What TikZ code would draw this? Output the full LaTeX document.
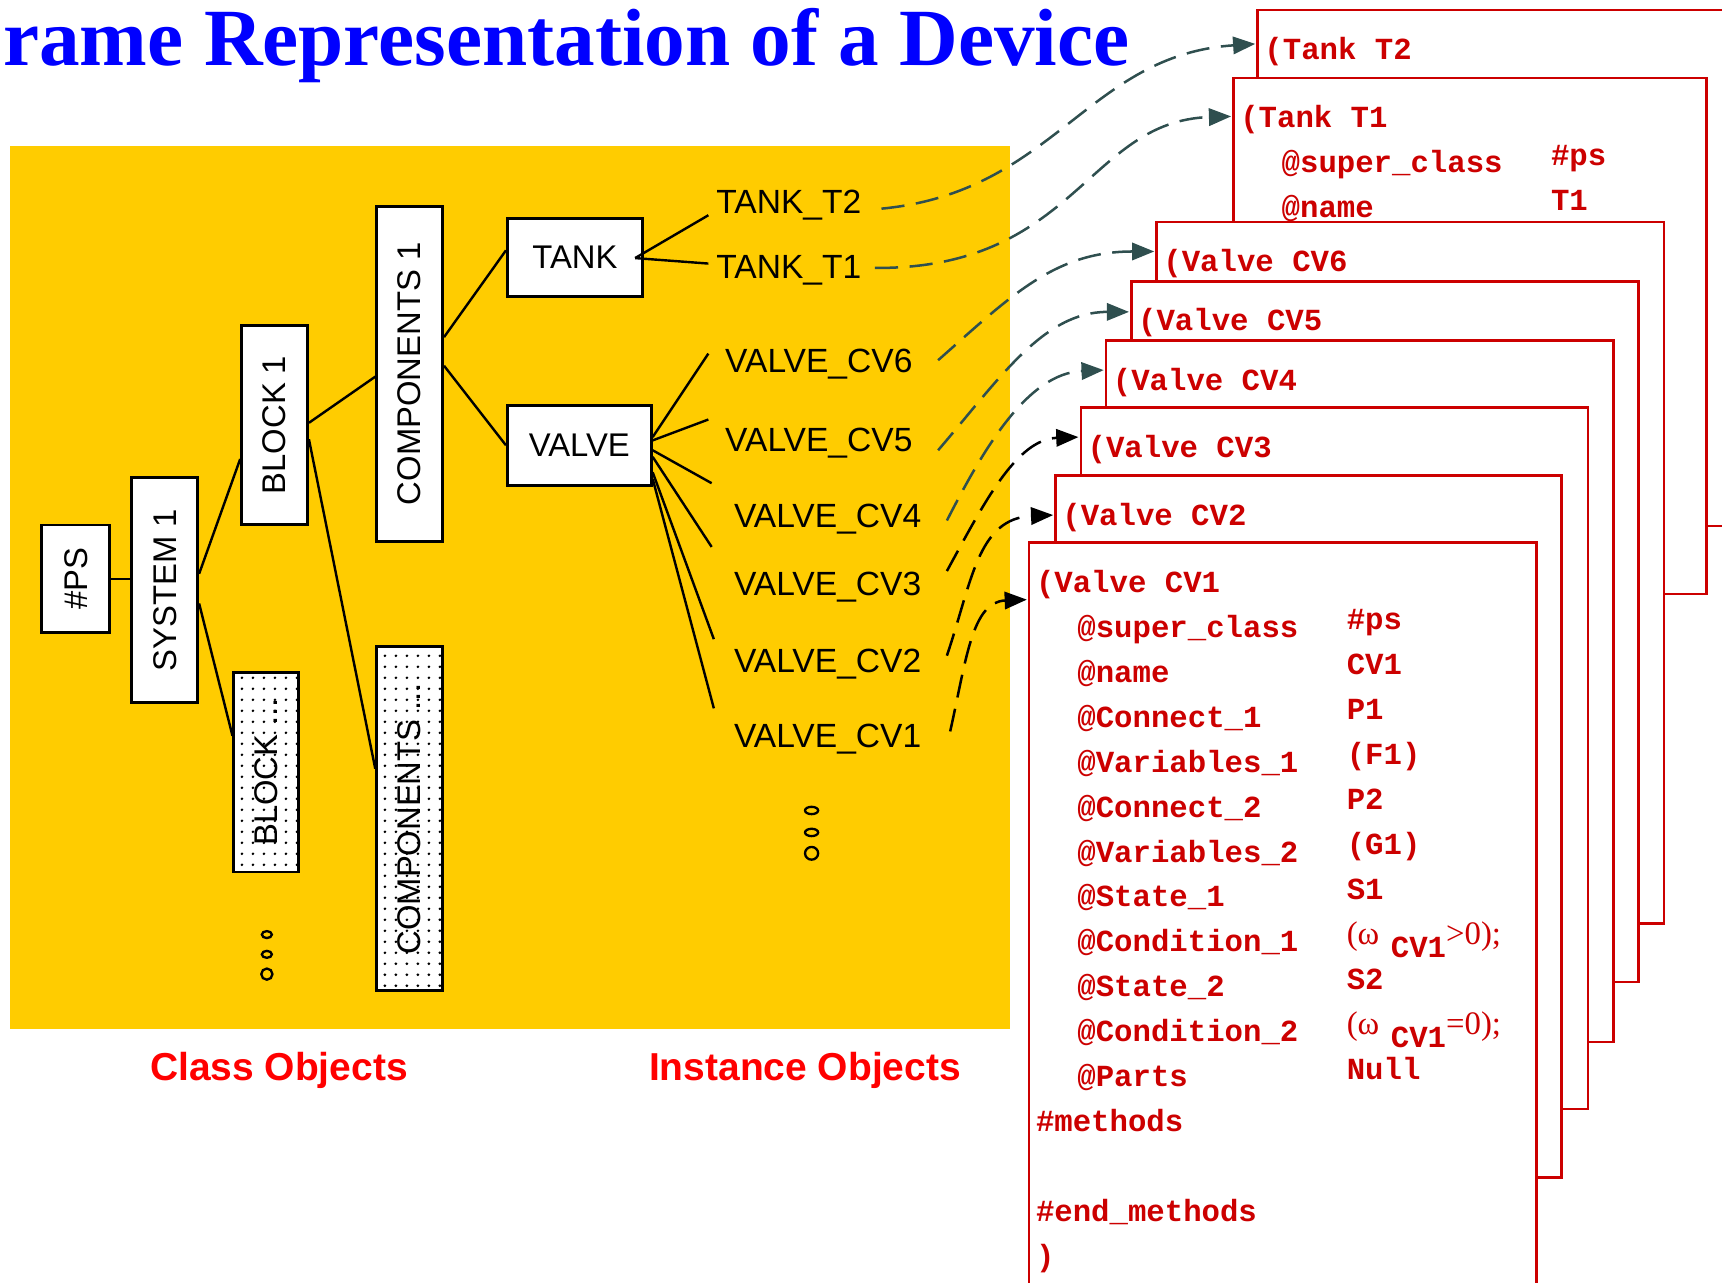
\documentclass[tikz,border=0pt]{standalone}
\usepackage{fontspec}
\setmainfont{Liberation Serif}
\setsansfont{Liberation Sans}
\setmonofont{Liberation Mono}
\usetikzlibrary{arrows.meta,calc,patterns.meta}

\definecolor{fieldyellow}{HTML}{FFCC00}
\definecolor{framered}{HTML}{CC0000}
\definecolor{linkslate}{HTML}{2F4F4F}

\newcommand{\slotindent}{\hspace*{1.35em}}
\newcommand{\omegacond}[1]{{\rmfamily\mdseries\fontsize{17}{23.3}\selectfont(ω}\hspace{6pt}\raisebox{-7pt}{CV1}{\rmfamily\mdseries\fontsize{17}{23.3}\selectfont#10);}}

\tikzdeclarepattern{
  name=sparsedots,
  type=uncolored,
  bottom left={(-2.85pt,-2.85pt)},
  top right={(2.85pt,2.85pt)},
  tile size={(5.7pt,5.7pt)},
  code={\fill (0pt,0pt) circle [radius=0.75pt];}
}

\tikzset{
  classbox/.style={draw, line width=1.5pt, fill=white, inner sep=0pt, font=\sffamily\fontsize{17}{20}\selectfont},
  vbox/.style={classbox, rotate=90},
  morebox/.style={vbox, fill=none, preaction={fill=white}, pattern=sparsedots},
  branch/.style={line width=1.25pt},
  inst/.style={anchor=base west, inner sep=0pt, font=\sffamily\fontsize{17.4}{20}\selectfont},
  instlink/.style={dash pattern=on 12pt off 6pt, line width=1.3pt, -{Triangle[length=11.5pt,width=9pt]}},
  slotframe/.style={draw=framered, line width=1.3pt, fill=white, anchor=north west, inner sep=0pt},
  slot/.style={anchor=north west, inner sep=0pt, align=left, text=framered, font=\ttfamily\bfseries\fontsize{15.9}{23.3}\selectfont},
  objcaption/.style={text=red, font=\sffamily\bfseries\fontsize{20.2}{24}\selectfont},
  moredots/.style={line width=1.2pt}
}

\begin{document}
\begin{tikzpicture}[x=0.02cm, y=-0.02cm]
\useasboundingbox (0,0) rectangle (1568,1168);
\clip (0,0) rectangle (1568,1168);

% yellow field behind the objects
\fill[fieldyellow] (9,133) rectangle (920,937);

% title, as far left as the page allows
\node[anchor=base east, inner sep=0pt, text=blue, font=\bfseries\fontsize{42.1}{48}\selectfont] (Title) at (1029,60) {rame Representation of a Device};

% class objects
\node[vbox, minimum width=1.96cm, minimum height=1.24cm] (PS) at (69,527) {\#PS};
\node[vbox, minimum width=4.1cm, minimum height=1.2cm] (System1) at (150,537.5) {SYSTEM 1};
\node[vbox, minimum width=3.64cm, minimum height=1.2cm] (Block1) at (250,387) {BLOCK 1};
\node[morebox, minimum width=3.64cm, minimum height=1.18cm] (BlockMore) at (242.5,703) {BLOCK ...};
\node[vbox, minimum width=6.1cm, minimum height=1.2cm] (Comp1) at (373,340.5) {COMPONENTS 1};
\node[morebox, minimum width=6.26cm, minimum height=1.2cm] (CompMore) at (373,745.5) {COMPONENTS ...};
\node[classbox, minimum width=2.46cm, minimum height=1.42cm] (Tank) at (523.5,234.5) {TANK};
\node[classbox, minimum width=2.62cm, minimum height=1.46cm] (Valve) at (527.5,405.5) {VALVE};

\draw[branch] (PS.south) -- (PS.south -| System1.north);
\draw[branch] ($(System1.south)+(0,-15)$) -- ($(Block1.north)+(0,31)$);
\draw[branch] ($(System1.south)+(0,12)$) -- ($(BlockMore.north)+(0,-33)$);
\draw[branch] ($(Block1.south)+(0,-2)$) -- ($(Comp1.north)+(0,2.5)$);
\draw[branch] ($(Block1.south)+(0,13)$) -- ($(CompMore.north)+(0,-45.5)$);
\draw[branch] ($(Comp1.south)+(0,-33.5)$) -- ($(Tank.west)+(0,-6.5)$);
\draw[branch] ($(Comp1.south)+(0,-7.5)$) -- (Valve.west);

% instance objects
\node[inst] (TankT2) at (652,194) {TANK\_T2};
\node[inst] (TankT1) at (652,254) {TANK\_T1};
\node[inst] (CV6) at (660,339) {VALVE\_CV6};
\node[inst] (CV5) at (660,411) {VALVE\_CV5};
\node[inst] (CV4) at (668,480) {VALVE\_CV4};
\node[inst] (CV3) at (668,542) {VALVE\_CV3};
\node[inst] (CV2) at (668,612) {VALVE\_CV2};
\node[inst] (CV1) at (668,681) {VALVE\_CV1};

\draw[branch] ($(Tank.east)+(-8,0.5)$) -- ($(TankT2.base west)+(-7,2)$);
\draw[branch] ($(Tank.east)+(-8,0.5)$) -- ($(TankT1.base west)+(-7,-14)$);
\draw[branch] ($(Valve.east)+(0,-7.5)$) -- ($(CV6.base west)+(-15,-17)$);
\draw[branch] ($(Valve.east)+(0,-4.5)$) -- ($(CV5.base west)+(-15,-29)$);
\draw[branch] ($(Valve.east)+(0,4.5)$) -- ($(CV4.base west)+(-20,-40)$);
\draw[branch] ($(Valve.east)+(0,10.5)$) -- ($(CV3.base west)+(-20,-44)$);
\draw[branch] ($(Valve.east)+(0,24.5)$) -- ($(CV2.base west)+(-18,-30)$);
\draw[branch] ($(Valve.east)+(0,30.5)$) -- ($(CV1.base west)+(-18,-36)$);

% frames of the instances, back to front
\node[slotframe, minimum width=9.12cm, minimum height=9.4cm] (FrT2) at (1144,8) {};
\node[slot] (T2Keys) at ($(FrT2.north west)+(7,17.3)$) {\strut(Tank T2};

\node[slotframe, minimum width=8.62cm, minimum height=9.4cm] (FrT1) at (1122,70) {};
\node[slot] (T1Keys) at ($(FrT1.north west)+(7,17.3)$) {\strut(Tank T1\\
  \slotindent @super\_class\\
  \slotindent @name};
\node[slot] (T1Values) at ($(FrT1.north west)+(290,51.3)$) {\strut\#ps\\
  T1};

\node[slotframe, minimum width=9.24cm, minimum height=12.78cm] (FrCV6) at (1052,201) {};
\node[slot] (CV6Keys) at ($(FrCV6.north west)+(7,17.3)$) {\strut(Valve CV6};

\node[slotframe, minimum width=9.24cm, minimum height=12.76cm] (FrCV5) at (1029,255) {};
\node[slot] (CV5Keys) at ($(FrCV5.north west)+(7,17.3)$) {\strut(Valve CV5};

\node[slotframe, minimum width=9.24cm, minimum height=12.78cm] (FrCV4) at (1006,309) {};
\node[slot] (CV4Keys) at ($(FrCV4.north west)+(7,17.3)$) {\strut(Valve CV4};

\node[slotframe, minimum width=9.24cm, minimum height=12.78cm] (FrCV3) at (983,370) {};
\node[slot] (CV3Keys) at ($(FrCV3.north west)+(7,17.3)$) {\strut(Valve CV3};

\node[slotframe, minimum width=9.22cm, minimum height=12.78cm] (FrCV2) at (960,432) {};
\node[slot] (CV2Keys) at ($(FrCV2.north west)+(7,17.3)$) {\strut(Valve CV2};

\node[slotframe, minimum width=9.24cm, minimum height=14.14cm] (FrCV1) at (936,493) {};
\node[slot] (CV1Keys) at ($(FrCV1.north west)+(7,17.3)$) {\strut(Valve CV1\\
  \slotindent @super\_class\\
  \slotindent @name\\
  \slotindent @Connect\_1\\
  \slotindent @Variables\_1\\
  \slotindent @Connect\_2\\
  \slotindent @Variables\_2\\
  \slotindent @State\_1\\
  \slotindent @Condition\_1\\
  \slotindent @State\_2\\
  \slotindent @Condition\_2\\
  \slotindent @Parts\\
  \#methods\\
  \mbox{}\\
  \#end\_methods\\
  )};
\node[slot] (CV1Values) at ($(FrCV1.north west)+(290,51.3)$) {\strut\#ps\\
  CV1\\
  P1\\
  (F1)\\
  P2\\
  (G1)\\
  S1\\
  \omegacond{>}\\
  S2\\
  \omegacond{=}\\
  Null};

% links from instances to their frames
\draw[instlink, linkslate] ($(TankT2.base east)+(18,-4)$) .. controls (960,175) and (990,50) .. ($(FrT2.north west)+(-1,32)$);
\draw[instlink, linkslate] ($(TankT1.base east)+(12,-10)$) .. controls (980,245) and (990,110) .. ($(FrT1.north west)+(-1,36)$);
\draw[instlink, linkslate] ($(CV6.base east)+(23,-11)$) .. controls (920,270) and (960,229) .. ($(FrCV6.north west)+(-1,28)$);
\draw[instlink, linkslate] ($(CV5.base east)+(23,-1)$) .. controls (910,345) and (950,284) .. ($(FrCV5.north west)+(-1,29)$);
\draw[instlink, linkslate] ($(CV4.base east)+(23,-6)$) .. controls (895,410) and (935,340) .. ($(FrCV4.north west)+(-1,28)$);
\draw[instlink, black] ($(CV3.base east)+(23,-22)$) .. controls (895,460) and (925,400) .. ($(FrCV3.north west)+(-1,28)$);
\draw[instlink, black] ($(CV2.base east)+(23,-15)$) .. controls (885,530) and (890,472) .. ($(FrCV2.north west)+(-1,37)$);
\draw[instlink, black] ($(CV1.base east)+(26,-15)$) .. controls (880,600) and (885,548) .. ($(FrCV1.north west)+(-1,53)$);

% more objects not shown
\draw[moredots] (243,851) ellipse [x radius=2.6pt, y radius=1.8pt];
\draw[moredots] (243,869) ellipse [x radius=2.6pt, y radius=1.8pt];
\draw[moredots] (243,887) ellipse [x radius=2.9pt, y radius=2.9pt];
\draw[moredots] (739,738) ellipse [x radius=3.4pt, y radius=1.9pt];
\draw[moredots] (739,758) ellipse [x radius=3.4pt, y radius=1.9pt];
\draw[moredots] (739,777) ellipse [x radius=3.4pt, y radius=3.3pt];

% captions
\node[objcaption] (ClassCap) at (254,975) {Class Objects};
\node[objcaption] (InstCap) at (733,975) {Instance Objects};

\end{tikzpicture}
\end{document}
